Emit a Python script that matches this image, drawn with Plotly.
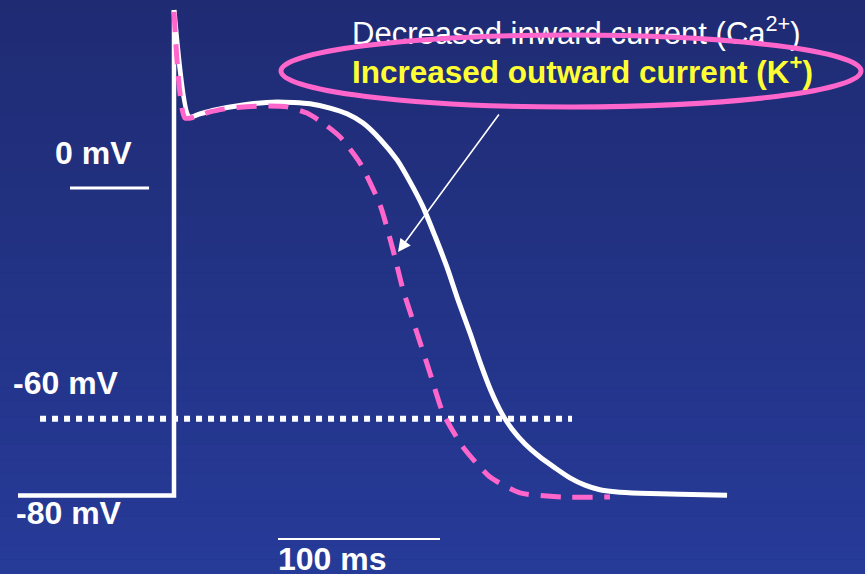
import plotly.graph_objects as go

# ---- data (time in ms, membrane potential in mV) ----
rest_t = [-96.3, 0.0, 0.0]
rest_v = [-80.0, -80.0, 46.3]

ap_t = [0.0, 9.3, 16.0, 25.3, 42.6, 63.6, 84.0, 96.3, 106.8, 116.7, 127.2, 137.7,
        145.7, 153.7, 161.1, 168.5, 175.3, 182.7, 189.5, 195.7, 201.9, 208.6,
        216.7, 225.9, 235.2, 244.4, 253.7, 262.9, 272.2, 287.7, 312.3, 341.4]
ap_v = [46.3, 18.5, 19.3, 20.3, 21.6, 22.4, 21.9, 20.8, 19.3, 16.9, 12.7, 7.3,
        1.6, -4.9, -12.5, -20.6, -29.1, -37.7, -46.0, -52.8, -58.3, -62.7,
        -66.6, -70.0, -72.8, -75.4, -77.3, -78.5, -79.0, -79.4, -79.7, -79.9]

k_t = [0.0, 6.8, 13.0, 22.2, 34.6, 53.1, 69.8, 82.1, 92.0, 102.5, 114.8, 127.2,
       135.2, 141.4, 150.0, 158.0, 166.0, 178.4, 195.1, 213.6, 240.1, 269.1]
k_v = [45.8, 18.2, 18.5, 19.8, 20.8, 21.3, 21.1, 19.5, 16.9, 13.3, 6.5, -4.4,
       -16.1, -26.5, -37.7, -48.1, -58.5, -67.4, -75.2, -79.3, -80.4, -80.4]

threshold_t = [-82.7, 245.7]
threshold_v = [-60, -60]

mv_bar_t = [-64.2, -15.4]
mv_bar_v = [0, 0]
ms_bar_t = [64.2, 164.2]
ms_bar_v = [-91.3, -91.3]

labels_mv = ["0 mV", "-60 mV", "-80 mV"]
label_ms = "100 ms"
text_ca = "Decreased inward current (Ca<sup>2+</sup>)"
text_k = "<b>Increased outward current (K<sup>+</sup>)</b>"

W, H = 865, 574
PX_MS, PX_MV = 1.62, 3.844
X0_PX, Y0_PX = 174, 188  # pixel of t=0, v=0

def px_to_ms(px):
    return (px - X0_PX) / PX_MS

def py_to_mv(py):
    return (Y0_PX - py) / PX_MV

FONT = "Liberation Sans, Arial, sans-serif"
PINK = "#FF66CC"

fig = go.Figure()

fig.add_trace(go.Scatter(x=rest_t, y=rest_v, mode="lines",
                         line=dict(color="white", width=4.5), hoverinfo="skip"))
fig.add_trace(go.Scatter(x=ap_t, y=ap_v, mode="lines",
                         line=dict(color="white", width=5, shape="spline", smoothing=0.6),
                         hoverinfo="skip"))
fig.add_trace(go.Scatter(x=threshold_t, y=threshold_v, mode="lines",
                         line=dict(color="white", width=6, dash="6px,6px"), hoverinfo="skip"))
fig.add_trace(go.Scatter(x=k_t, y=k_v, mode="lines",
                         line=dict(color=PINK, width=5, dash="20px,12px", shape="spline", smoothing=0.6),
                         hoverinfo="skip"))
fig.add_trace(go.Scatter(x=mv_bar_t, y=mv_bar_v, mode="lines",
                         line=dict(color="white", width=3), hoverinfo="skip"))
fig.add_trace(go.Scatter(x=ms_bar_t, y=ms_bar_v, mode="lines",
                         line=dict(color="white", width=2), hoverinfo="skip"))
# white text drawn as a trace so the ellipse passes over it
fig.add_trace(go.Scatter(x=[px_to_ms(352)], y=[py_to_mv(36)], mode="text",
                         text=[text_ca], textposition="middle right",
                         textfont=dict(family=FONT, size=31, color="white"),
                         hoverinfo="skip"))

# background gradient
shapes = []
top = (31, 43, 115)
bot = (38, 58, 152)
n = 40
for i in range(n):
    f = i / (n - 1)
    c = tuple(round(top[k] + (bot[k] - top[k]) * f) for k in range(3))
    shapes.append(dict(type="rect", xref="paper", yref="paper",
                       x0=0, x1=1, y0=1 - (i + 1) / n, y1=1 - i / n,
                       fillcolor="rgb(%d,%d,%d)" % c, line=dict(width=0), layer="below"))
shapes.append(dict(type="circle", xref="paper", yref="paper",
                   x0=281 / W, x1=861 / W, y0=1 - 107 / H, y1=1 - 35 / H,
                   line=dict(color=PINK, width=5), layer="above"))

annotations = []
lab_pos = [(53, 153), (11, 383), (14, 513)]
for t, (lx, ly) in zip(labels_mv, lab_pos):
    annotations.append(dict(text="<b>%s</b>" % t, xref="paper", yref="paper",
                            x=lx / W, y=1 - ly / H, xanchor="left", yanchor="middle",
                            showarrow=False, font=dict(family=FONT, size=32, color="white")))
annotations.append(dict(text="<b>%s</b>" % label_ms, xref="paper", yref="paper",
                        x=276 / W, y=1 - 559 / H, xanchor="left", yanchor="middle",
                        showarrow=False, font=dict(family=FONT, size=32, color="white")))
annotations.append(dict(text=text_k, xref="paper", yref="paper",
                        x=350 / W, y=1 - 70 / H, xanchor="left", yanchor="middle",
                        showarrow=False, font=dict(family=FONT, size=31.5, color="#FFFF33")))
annotations.append(dict(x=px_to_ms(398), y=py_to_mv(252), xref="x", yref="y",
                        ax=102, ay=-139, text="", showarrow=True,
                        arrowhead=2, arrowsize=1.6, arrowwidth=1.6, arrowcolor="white"))

fig.update_layout(
    width=W, height=H,
    margin=dict(l=0, r=0, t=0, b=0),
    paper_bgcolor="rgb(34,50,133)",
    plot_bgcolor="rgba(0,0,0,0)",
    showlegend=False,
    shapes=shapes,
    annotations=annotations,
    xaxis=dict(range=[px_to_ms(0), px_to_ms(W)], visible=False, fixedrange=True),
    yaxis=dict(range=[py_to_mv(H), py_to_mv(0)], visible=False, fixedrange=True),
)

fig.write_html("out.html", config={"displayModeBar": False},
               post_script="document.body.style.margin='0px';document.body.style.overflow='hidden';")
